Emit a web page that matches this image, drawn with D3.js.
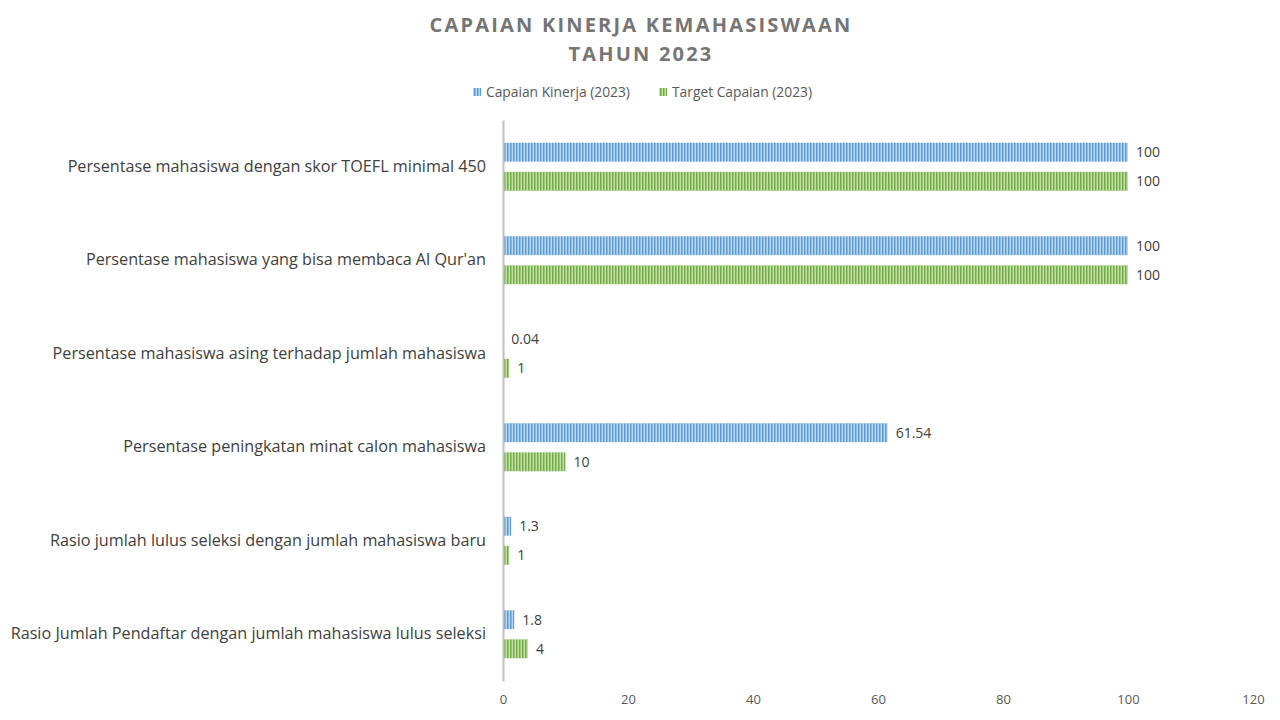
<!DOCTYPE html>
<html>
<head>
<meta charset="utf-8">
<script src="https://cdn.jsdelivr.net/npm/d3@7"></script>
<style>
  body { margin: 0; background: #fff; }
  svg { font-family: "Open Sans", sans-serif; }
</style>
</head>
<body>
<svg id="chart" width="1280" height="720"></svg>
<script>
const categories = [
    'Persentase mahasiswa dengan skor TOEFL minimal 450',
    "Persentase mahasiswa yang bisa membaca Al Qur'an",
    'Persentase mahasiswa asing terhadap jumlah mahasiswa',
    'Persentase peningkatan minat calon mahasiswa',
    'Rasio jumlah lulus seleksi dengan jumlah mahasiswa baru',
    'Rasio Jumlah Pendaftar dengan jumlah mahasiswa lulus seleksi'
];
const capaian = [100, 100, 0.04, 61.54, 1.3, 1.8];
const target = [100, 100, 1, 10, 1, 4];
const seriesNames = ['Capaian Kinerja (2023)', 'Target Capaian (2023)'];
const xTicks = [0, 20, 40, 60, 80, 100, 120];

const svg = d3.select('#chart');
const margin = { top: 120, right: 27, bottom: 39, left: 503 };
const width = 1280, height = 720;
const font = '"Open Sans", sans-serif';

// Striped fills
const defs = svg.append('defs');
const patterns = [
    { id: 'stripe-blue', light: '#bcd7f0', dark: '#5b9bd5' },
    { id: 'stripe-green', light: '#c4e0a6', dark: '#70ad47' }
];
patterns.forEach(p => {
    const pat = defs.append('pattern')
        .attr('id', p.id)
        .attr('patternUnits', 'userSpaceOnUse')
        .attr('width', 3)
        .attr('height', 10);
    pat.append('rect').attr('width', 3).attr('height', 10).attr('fill', p.light);
    pat.append('rect').attr('width', 1.5).attr('height', 10).attr('fill', p.dark);
});

// Scales
const x = d3.scaleLinear()
    .domain([0, 120])
    .range([margin.left, width - margin.right]);

const y = d3.scaleBand()
    .domain(categories)
    .range([margin.top, height - margin.bottom]);

const groupH = 48;
const ySub = d3.scaleBand()
    .domain([0, 1])
    .range([(y.bandwidth() - groupH) / 2, (y.bandwidth() + groupH) / 2])
    .paddingInner(0.35);

// Title
svg.append('g')
    .selectAll('text')
    .data(['CAPAIAN KINERJA KEMAHASISWAAN', 'TAHUN 2023'])
    .join('text')
    .attr('x', 641)
    .attr('y', (d, i) => 32 + i * 29)
    .attr('text-anchor', 'middle')
    .attr('font-size', 20)
    .attr('font-weight', 'bold')
    .attr('letter-spacing', 2.2)
    .attr('fill', '#757575')
    .text(d => d);

// Legend
const legendItems = [
    { name: seriesNames[0], fill: 'url(#stripe-blue)', x: 473 },
    { name: seriesNames[1], fill: 'url(#stripe-green)', x: 659 }
];
const legend = svg.append('g').attr('class', 'legend');
legendItems.forEach(l => {
    legend.append('rect')
        .attr('x', l.x).attr('y', 88)
        .attr('width', 8).attr('height', 8)
        .attr('fill', l.fill);
    legend.append('text')
        .attr('x', l.x + 13).attr('y', 97)
        .attr('font-size', 13.8)
        .attr('fill', '#595959')
        .text(l.name);
});

// Bars
const rows = categories.map((c, i) => ({ cat: c, values: [capaian[i], target[i]] }));
const fills = ['url(#stripe-blue)', 'url(#stripe-green)'];

const groups = svg.append('g')
    .selectAll('g')
    .data(rows)
    .join('g')
    .attr('transform', d => `translate(0,${y(d.cat)})`);

groups.selectAll('rect')
    .data(d => d.values.map((v, s) => ({ v, s })))
    .join('rect')
    .attr('x', x(0))
    .attr('y', d => ySub(d.s))
    .attr('width', d => x(d.v) - x(0))
    .attr('height', ySub.bandwidth())
    .attr('fill', d => fills[d.s]);

groups.selectAll('text.val')
    .data(d => d.values.map((v, s) => ({ v, s })))
    .join('text')
    .attr('class', 'val')
    .attr('x', d => x(d.v) + 8)
    .attr('y', d => ySub(d.s) + ySub.bandwidth() / 2)
    .attr('dy', '0.35em')
    .attr('font-size', 14)
    .attr('fill', '#404040')
    .text(d => d.v);

// Axes
const xAxis = d3.axisBottom(x)
    .tickValues(xTicks)
    .tickSize(0)
    .tickPadding(14);

svg.append('g')
    .attr('transform', `translate(0,${height - margin.bottom})`)
    .call(xAxis)
    .call(g => g.select('.domain').remove())
    .selectAll('text')
    .attr('font-size', 13)
    .attr('font-family', font)
    .attr('fill', '#595959');

const yAxis = d3.axisLeft(y)
    .tickSize(0)
    .tickPadding(17);

svg.append('g')
    .attr('transform', `translate(${margin.left},0)`)
    .call(yAxis)
    .call(g => g.select('.domain').attr('stroke', '#bfbfbf').attr('stroke-width', 2))
    .selectAll('text')
    .attr('font-size', 16.2)
    .attr('font-family', font)
    .attr('fill', '#404040');
</script>
</body>
</html>
